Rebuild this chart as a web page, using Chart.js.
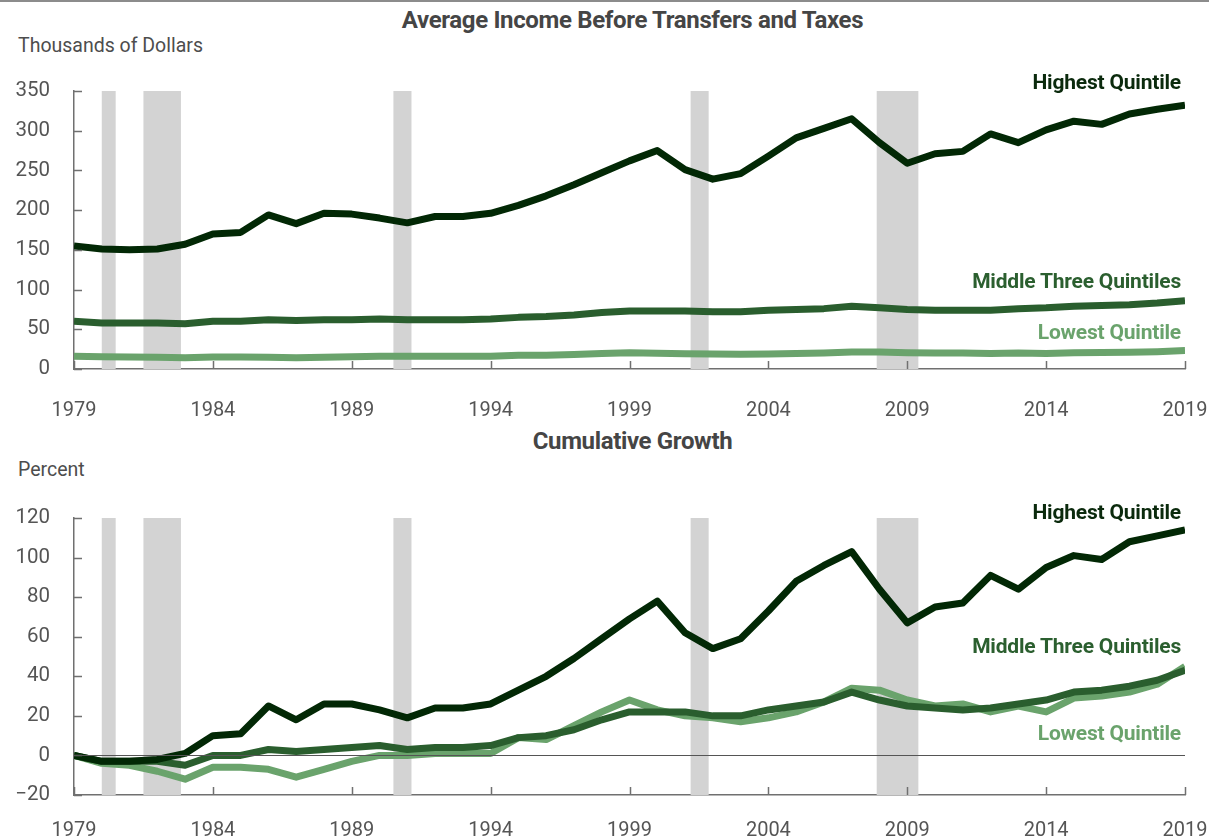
<!DOCTYPE html>
<html>
<head>
<meta charset="utf-8">
<script src="https://cdn.jsdelivr.net/npm/chart.js@4.4.1/dist/chart.umd.min.js"></script>
<style>
  html, body { margin: 0; padding: 0; background: #ffffff; }
  #wrap { position: relative; width: 1209px; height: 840px; overflow: hidden; font-family: Roboto, "Noto Sans", sans-serif; }
  .rule { position: absolute; left: 0; top: 0; width: 1209px; height: 2px; background: #8c8c8c; }
  canvas { position: absolute; left: 0; }
  .t { position: absolute; white-space: nowrap; line-height: 26px; height: 26px; }
  .title { font-weight: 700; font-size: 24px; color: #454545; width: 1209px; left: 28px; text-align: center; letter-spacing: -0.35px; }
  .unit { font-size: 19.5px; color: #4d4d4d; left: 18px; }
  .lab { font-weight: 700; font-size: 21px; right: 28px; text-align: right; letter-spacing: -0.2px; }
</style>
</head>
<body>
<div id="wrap">
  <div class="rule"></div>
  <div class="t title" style="top:7px;">Average Income Before Transfers and Taxes</div>
  <div class="t unit" style="top:33px;">Thousands of Dollars</div>
  <canvas id="incomeChart" width="1209" height="420" style="top:0;"></canvas>

  <div class="t title" style="top:428px;">Cumulative Growth</div>
  <div class="t unit" style="top:457px;">Percent</div>
  <canvas id="growthChart" width="1209" height="420" style="top:420px;"></canvas>

  <div class="t lab" style="top:69px;color:#0b2a0d;">Highest Quintile</div>
  <div class="t lab" style="top:268px;color:#2b5f2f;">Middle Three Quintiles</div>
  <div class="t lab" style="top:319px;color:#6aa36c;">Lowest Quintile</div>

  <div class="t lab" style="top:499px;color:#0b2a0d;">Highest Quintile</div>
  <div class="t lab" style="top:633px;color:#2b5f2f;">Middle Three Quintiles</div>
  <div class="t lab" style="top:720px;color:#6aa36c;">Lowest Quintile</div>
</div>

<script>
// Years covered by both panels
const years = [1979, 1980, 1981, 1982, 1983, 1984, 1985, 1986, 1987, 1988,
               1989, 1990, 1991, 1992, 1993, 1994, 1995, 1996, 1997, 1998,
               1999, 2000, 2001, 2002, 2003, 2004, 2005, 2006, 2007, 2008,
               2009, 2010, 2011, 2012, 2013, 2014, 2015, 2016, 2017, 2018, 2019];

// Labelled years on the horizontal axis
const yearTicks = [1979, 1984, 1989, 1994, 1999, 2004, 2009, 2014, 2019];

// Recession periods (fractional years)
const recessionStart = [1980.0, 1981.5, 1990.5, 2001.2, 2007.9];
const recessionEnd   = [1980.5, 1982.85, 1991.15, 2001.85, 2009.4];

// Average income before transfers and taxes, thousands of dollars
const incomeHighest = [155, 151, 150, 151, 157, 170, 172, 194, 183, 196,
                       195, 190, 184, 192, 192, 196, 206, 218, 232, 247,
                       262, 275, 251, 239, 246, 268, 291, 303, 315, 285,
                       259, 271, 274, 296, 285, 301, 312, 308, 321, 327, 332];
const incomeMiddle  = [60, 58, 58, 58, 57, 60, 60, 62, 61, 62,
                       62, 63, 62, 62, 62, 63, 65, 66, 68, 71,
                       73, 73, 73, 72, 72, 74, 75, 76, 79, 77,
                       75, 74, 74, 74, 76, 77, 79, 80, 81, 83, 86];
const incomeLowest  = [16, 15.4, 15.2, 14.7, 14.1, 15.0, 15.0, 14.9, 14.2, 14.9,
                       15.5, 16.0, 16.0, 16.2, 16.2, 16.2, 17.4, 17.3, 18.4, 19.5,
                       20.5, 19.7, 19.2, 19.0, 18.7, 19.0, 19.5, 20.3, 21.4, 21.3,
                       20.5, 20.0, 20.2, 19.5, 20.0, 19.5, 20.6, 20.8, 21.1, 21.8, 23.2];

// Cumulative growth since 1979, percent
const growthHighest = [0, -3, -3, -2, 1, 10, 11, 25, 18, 26,
                       26, 23, 19, 24, 24, 26, 33, 40, 49, 59,
                       69, 78, 62, 54, 59, 73, 88, 96, 103, 84,
                       67, 75, 77, 91, 84, 95, 101, 99, 108, 111, 114];
const growthMiddle  = [0, -3, -3, -3, -5, 0, 0, 3, 2, 3,
                       4, 5, 3, 4, 4, 5, 9, 10, 13, 18,
                       22, 22, 22, 20, 20, 23, 25, 27, 32, 28,
                       25, 24, 23, 24, 26, 28, 32, 33, 35, 38, 43];
const growthLowest  = [0, -4, -5, -8, -12, -6, -6, -7, -11, -7,
                       -3, 0, 0, 1, 1, 1, 9, 8, 15, 22,
                       28, 23, 20, 19, 17, 19, 22, 27, 34, 33,
                       28, 25, 26, 22, 25, 22, 29, 30, 32, 36, 45];

const COLOR_HIGH = '#022805';
const COLOR_MID  = '#2a5e2e';
const COLOR_LOW  = '#6aa36c';
const AXIS_COLOR = '#707070';

// Grey bands for recessions, behind the lines
const recessionBands = {
  id: 'recessionBands',
  beforeDatasetsDraw(chart) {
    const { ctx, chartArea, scales } = chart;
    ctx.save();
    ctx.fillStyle = '#d3d3d3';
    for (let i = 0; i < recessionStart.length; i++) {
      const x0 = scales.x.getPixelForValue(recessionStart[i]);
      const x1 = scales.x.getPixelForValue(recessionEnd[i]);
      ctx.fillRect(x0, chartArea.top, x1 - x0, chartArea.bottom - chartArea.top);
    }
    ctx.restore();
  }
};

// Inward tick marks on both axes, plus a zero reference line when the range crosses zero
const innerTicks = {
  id: 'innerTicks',
  afterDatasetsDraw(chart) {
    const { ctx, chartArea, scales } = chart;
    ctx.save();
    ctx.strokeStyle = AXIS_COLOR;
    ctx.lineWidth = 1.5;
    ctx.beginPath();
    scales.x.ticks.forEach(t => {
      const x = Math.round(scales.x.getPixelForValue(t.value)) + 0.5;
      ctx.moveTo(x, chartArea.bottom);
      ctx.lineTo(x, chartArea.bottom - 8);
    });
    scales.y.ticks.forEach(t => {
      const y = Math.round(scales.y.getPixelForValue(t.value)) + 0.5;
      ctx.moveTo(chartArea.left, y);
      ctx.lineTo(chartArea.left + 8, y);
    });
    ctx.stroke();
    if (scales.y.min < 0) {
      const y0 = Math.round(scales.y.getPixelForValue(0)) + 0.5;
      ctx.strokeStyle = '#555555';
      ctx.lineWidth = 1.2;
      ctx.beginPath();
      ctx.moveTo(chartArea.left, y0);
      ctx.lineTo(chartArea.right, y0);
      ctx.stroke();
    }
    ctx.restore();
  }
};

function series(label, values, color) {
  return {
    label: label,
    data: years.map((yr, i) => ({ x: yr, y: values[i] })),
    borderColor: color,
    backgroundColor: color,
    borderWidth: 7,
    pointRadius: 0,
    tension: 0,
    borderJoinStyle: 'round',
    borderCapStyle: 'butt',
    fill: false
  };
}

function makeChart(id, high, mid, low, yMin, yMax, yStep, padTop, xAxisHeight, xLabelPad) {
  return new Chart(document.getElementById(id), {
    type: 'line',
    data: {
      datasets: [
        series('Highest Quintile', high, COLOR_HIGH),
        series('Middle Three Quintiles', mid, COLOR_MID),
        series('Lowest Quintile', low, COLOR_LOW)
      ]
    },
    options: {
      responsive: false,
      animation: false,
      events: [],
      layout: { padding: { top: padTop, right: 24, bottom: 0, left: 0 } },
      plugins: { legend: { display: false }, tooltip: { enabled: false }, title: { display: false } },
      scales: {
        x: {
          type: 'linear',
          min: 1979,
          max: 2019,
          afterBuildTicks(scale) { scale.ticks = yearTicks.map(v => ({ value: v })); },
          afterFit(scale) {
            scale.height = xAxisHeight;
            scale.paddingLeft = 0;
            scale.paddingRight = 0;
          },
          grid: { display: false, drawTicks: false },
          border: { display: true, color: AXIS_COLOR, width: 1.5 },
          ticks: {
            autoSkip: false,
            maxRotation: 0,
            padding: xLabelPad,
            color: '#555555',
            font: { family: 'Roboto', size: 20, weight: '400' },
            callback: v => String(v)
          }
        },
        y: {
          min: yMin,
          max: yMax,
          afterFit(scale) {
            scale.width = 74;
            scale.paddingTop = 0;
            scale.paddingBottom = 0;
          },
          grid: { display: false, drawTicks: false },
          border: { display: true, color: AXIS_COLOR, width: 1.5 },
          ticks: {
            stepSize: yStep,
            padding: 24,
            color: '#555555',
            font: { family: 'Roboto', size: 20.5, weight: '400' },
            callback: v => (v < 0 ? '\u2212' + Math.abs(v) : String(v))
          }
        }
      }
    },
    plugins: [recessionBands, innerTicks]
  });
}

makeChart('incomeChart', incomeHighest, incomeMiddle, incomeLowest, 0, 350, 50, 91, 51, 30);
makeChart('growthChart', growthHighest, growthMiddle, growthLowest, -20, 120, 20, 98, 45, 24);
</script>
</body>
</html>
